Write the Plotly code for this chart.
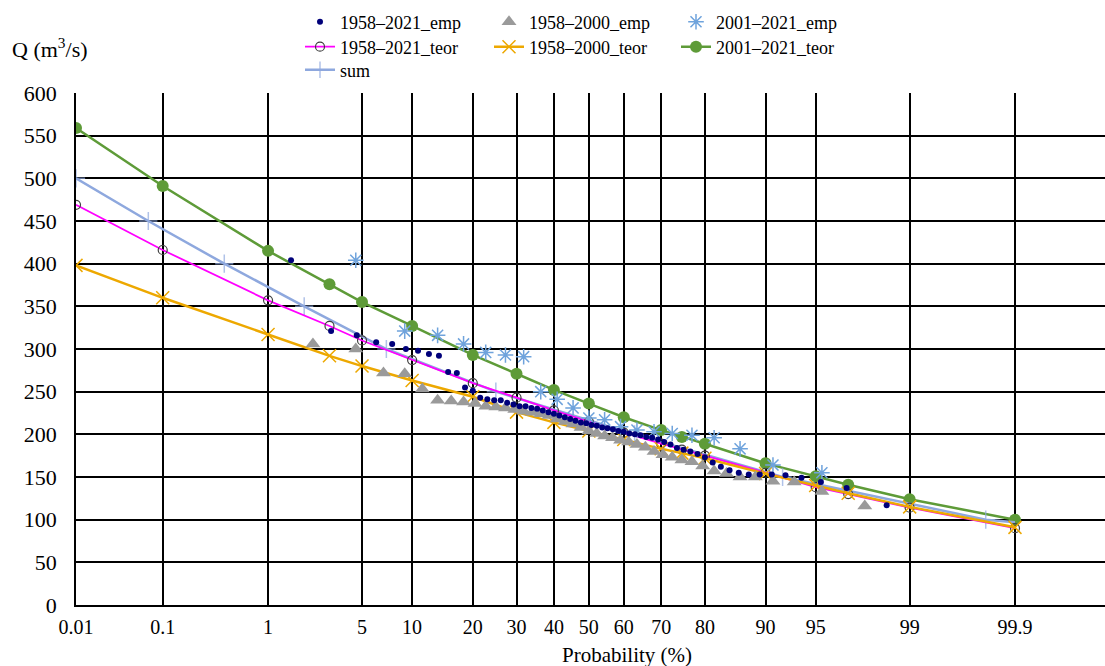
import plotly.graph_objects as go
from statistics import NormalDist

# ---------------- data ----------------
tick_probs = [0.01, 0.1, 1, 5, 10, 20, 30, 40, 50, 60, 70, 80, 90, 95, 99, 99.9]
tick_labels = ["0.01", "0.1", "1", "5", "10", "20", "30", "40", "50", "60", "70", "80", "90", "95", "99", "99.9"]
q_ticks = [0, 50, 100, 150, 200, 250, 300, 350, 400, 450, 500, 550, 600]

# empirical 1958-2021
p_emp_5821 = [1.54, 3.08, 4.62, 6.15, 7.69, 9.23, 10.77, 12.31, 13.85, 15.38, 16.92, 18.46, 20.00,
              21.54, 23.08, 24.62, 26.15, 27.69, 29.23, 30.77, 32.31, 33.85, 35.38, 36.92, 38.46,
              40.00, 41.54, 43.08, 44.62, 46.15, 47.69, 49.23, 50.77, 52.31, 53.85, 55.38, 56.92,
              58.46, 60.00, 61.54, 63.08, 64.62, 66.15, 67.69, 69.23, 70.77, 72.31, 73.85, 75.38,
              76.92, 78.46, 80.00, 81.54, 83.08, 84.62, 86.15, 87.69, 89.23, 90.77, 92.31, 93.85,
              95.38, 96.92, 98.46]
q_emp_5821 = [404, 321, 316, 308, 306, 300, 298, 294, 292, 273, 272, 255, 251,
              243, 241, 240, 240, 237, 235, 233, 233, 231, 230, 228, 226,
              224, 222, 220, 218, 216, 214, 213, 211, 210, 208, 207, 206,
              204, 203, 201, 200, 199, 197, 196, 194, 191, 188, 184, 182,
              180, 177, 173, 167, 162, 158, 155, 153, 153, 153, 152, 149,
              144, 137, 117]

# empirical 1958-2000
p_emp_5800 = [2.27, 4.55, 6.82, 9.09, 11.36, 13.64, 15.91, 18.18, 20.45, 22.73, 25.00, 27.27,
              29.55, 31.82, 34.09, 36.36, 38.64, 40.91, 43.18, 45.45, 47.73, 50.00, 52.27, 54.55,
              56.82, 59.09, 61.36, 63.64, 65.91, 68.18, 70.45, 72.73, 75.00, 77.27, 79.55, 81.82,
              84.09, 86.36, 88.64, 90.91, 93.18, 95.45, 97.73]
q_emp_5800 = [306, 300, 272, 271, 253, 240, 239, 238, 236, 233, 232, 231,
              229, 227, 226, 224, 222, 218, 215, 212, 208, 204, 201, 198,
              196, 193, 191, 188, 185, 180, 176, 173, 170, 168, 163, 157,
              154, 150, 150, 145, 144, 133, 116]

# empirical 2001-2021
p_emp_0121 = [4.55, 9.09, 13.64, 18.18, 22.73, 27.27, 31.82, 36.36, 40.91, 45.45, 50.00,
              54.55, 59.09, 63.64, 68.18, 72.73, 77.27, 81.82, 86.36, 90.91, 95.45]
q_emp_0121 = [404, 321, 316, 306, 296, 293, 291, 250, 241, 231, 219,
              217, 209, 205, 203, 201, 199, 196, 183, 164, 155]

# theoretical curves
p_teor = [0.01, 0.1, 1, 3, 5, 10, 20, 30, 40, 50, 60, 70, 75, 80, 90, 95, 97, 99, 99.9]
q_teor_5821 = [469, 416, 357, 327, 310, 287, 260, 243, 228, 215, 202, 189, 182, 175, 155, 138, 130, 114, 90]
q_teor_5800 = [398, 360, 317, 292, 280, 263, 244, 226, 214, 204, 194, 183, 178, 172, 154, 140, 131, 115, 91]
q_teor_0121 = [559, 491, 415, 376, 355, 327, 293, 271, 252, 236, 220, 205, 197, 189, 166, 151, 141, 124, 100]

# sum (mixed) distribution
p_sum = [0.01, 0.07, 0.41, 1.95, 7.1, 25, 63, 92, 99.8, 99.9]
q_sum = [500, 450, 400, 350, 300, 250, 200, 150, 100, 97]
sum_marker_sizes = [13, 13, 13, 13, 13, 13, 13, 13, 13, 0]

# ---------------- helpers ----------------
nd = NormalDist()
def z(ps):
    return [nd.inv_cdf(p / 100.0) for p in ps]

FONT = "Liberation Serif"
C_NAVY = "#00007A"
C_GREY = "#9A9A9A"
C_LBLUE = "#6FA3DC"
C_MAG = "#FF00FF"
C_ORANGE = "#EDA800"
C_GREEN = "#5E9B38"
C_SUM = "#8EA8DE"
C_CIRC = "#404040"

W, H = 1105, 666
ML, MR, MT, MB = 76, 0, 93, 61
PW = W - ML - MR
PH = H - MT - MB

def px_x(px):
    return (px - ML) / PW
def px_y(py):
    return 1 + (MT - py) / PH

fig = go.Figure()

fig.add_trace(go.Scatter(x=z(p_teor), y=q_teor_0121, mode="lines+markers", name="2001–2021_teor",
                         line=dict(color=C_GREEN, width=2.5),
                         marker=dict(symbol="circle", size=12, color=C_GREEN),
                         legend="legend6"))
fig.add_trace(go.Scatter(x=z(p_sum), y=q_sum, mode="lines+markers", name="sum",
                         line=dict(color=C_SUM, width=2.5),
                         marker=dict(symbol="cross-thin-open", size=sum_marker_sizes, color=C_SUM,
                                     line=dict(color=C_SUM, width=1.5)),
                         legend="legend7"))
fig.add_trace(go.Scatter(x=z(p_teor), y=q_teor_5821, mode="lines+markers", name="1958–2021_teor",
                         line=dict(color=C_MAG, width=1.8),
                         marker=dict(symbol="circle-open", size=9, color=C_CIRC,
                                     line=dict(color=C_CIRC, width=1.2)),
                         legend="legend4"))
fig.add_trace(go.Scatter(x=z(p_teor), y=q_teor_5800, mode="lines+markers", name="1958–2000_teor",
                         line=dict(color=C_ORANGE, width=2.5),
                         marker=dict(symbol="x-thin-open", size=13, color=C_ORANGE,
                                     line=dict(color=C_ORANGE, width=1.5)),
                         legend="legend5"))
fig.add_trace(go.Scatter(x=z(p_emp_5800), y=q_emp_5800, mode="markers", name="1958–2000_emp",
                         marker=dict(symbol="triangle-up", size=13, color=C_GREY),
                         legend="legend2"))
fig.add_trace(go.Scatter(x=z(p_emp_0121), y=q_emp_0121, mode="markers", name="2001–2021_emp",
                         marker=dict(symbol="asterisk-open", size=13, color=C_LBLUE,
                                     line=dict(color=C_LBLUE, width=1.5)),
                         legend="legend3"))
fig.add_trace(go.Scatter(x=z(p_emp_5821), y=q_emp_5821, mode="markers", name="1958–2021_emp",
                         marker=dict(symbol="circle", size=6, color=C_NAVY),
                         legend="legend"))

legend_common = dict(font=dict(family=FONT, size=18, color="black"), bgcolor="rgba(0,0,0,0)",
                     borderwidth=0, yanchor="middle", xanchor="left", orientation="v", itemwidth=30)

col_x = [300, 489, 676]
row_y = [22, 47, 70]

fig.update_layout(
    width=W, height=H,
    margin=dict(l=ML, r=MR, t=MT, b=MB),
    paper_bgcolor="white", plot_bgcolor="white",
    showlegend=True,
    legend=dict(x=px_x(col_x[0]), y=px_y(row_y[0]), **legend_common),
    legend2=dict(x=px_x(col_x[1]), y=px_y(row_y[0]), **legend_common),
    legend3=dict(x=px_x(col_x[2]), y=px_y(row_y[0]), **legend_common),
    legend4=dict(x=px_x(col_x[0]), y=px_y(row_y[1]), **legend_common),
    legend5=dict(x=px_x(col_x[1]), y=px_y(row_y[1]), **legend_common),
    legend6=dict(x=px_x(col_x[2]), y=px_y(row_y[1]), **legend_common),
    legend7=dict(x=px_x(col_x[0]), y=px_y(row_y[2]), **legend_common),
    xaxis=dict(
        range=[nd.inv_cdf(0.0001), 3.743],
        tickvals=z(tick_probs), ticktext=tick_labels,
        showgrid=True, gridcolor="black", gridwidth=1.8,
        showline=True, linecolor="black", linewidth=1.8,
        zeroline=False, ticks="", ticklabelstandoff=3,
        tickfont=dict(family=FONT, size=20, color="black"),
    ),
    yaxis=dict(
        range=[0, 600], tickvals=q_ticks,
        showgrid=True, gridcolor="black", gridwidth=1.8,
        showline=True, linecolor="black", linewidth=1.8,
        zeroline=False, ticks="", ticklabelstandoff=13,
        tickfont=dict(family=FONT, size=22, color="black"),
    ),
    annotations=[
        dict(text="Q (m<sup>3</sup>/s)", xref="paper", yref="paper", x=px_x(10), y=px_y(48),
             xanchor="left", yanchor="middle", showarrow=False,
             font=dict(family=FONT, size=22, color="black")),
        dict(text="Probability (%)", xref="paper", yref="paper", x=px_x(627), y=px_y(655),
             xanchor="center", yanchor="middle", showarrow=False,
             font=dict(family=FONT, size=21, color="black")),
    ],
)

fig.write_html("out.html")
